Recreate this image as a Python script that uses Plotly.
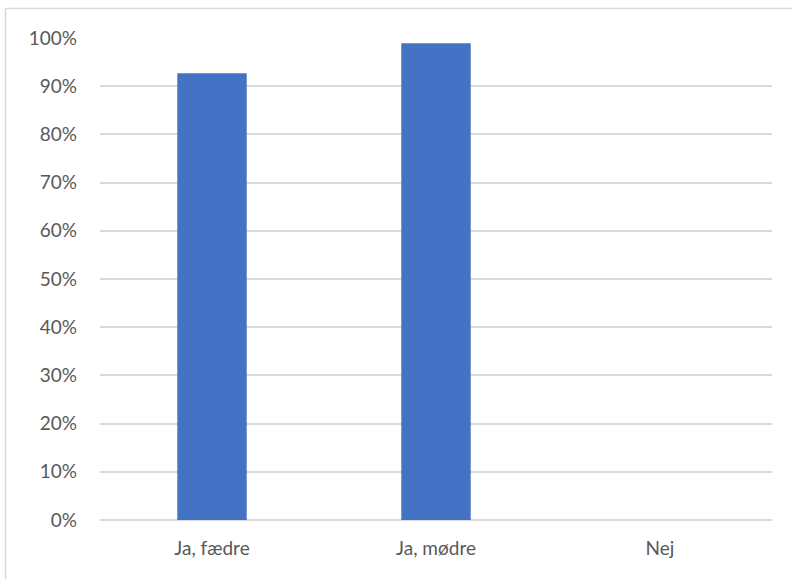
import plotly.graph_objects as go

categories = ["Ja, fædre", "Ja, mødre", "Nej"]
values = [0.927, 0.989, 0.0]
tick_vals = [0, 0.1, 0.2, 0.3, 0.4, 0.5, 0.6, 0.7, 0.8, 0.9, 1.0]
tick_text = ["0%", "10%", "20%", "30%", "40%", "50%", "60%", "70%", "80%", "90%", "100%"]

W, H = 792, 579
L, R, T, B = 100, 20, 38, 59
pw, ph = W - L - R, H - T - B

fig = go.Figure(go.Bar(x=categories, y=values, marker=dict(color="#4472C4", line=dict(width=0)),
                       width=0.31, hoverinfo="skip"))

# outer chart border (light gray), left and top edges visible
bx0 = (5.5 - L) / pw
by1 = (H - B - 8.5) / ph
fig.add_shape(type="line", xref="paper", yref="paper", x0=bx0, x1=bx0, y0=by1, y1=-0.5,
              line=dict(color="#d9d9d9", width=1.5))
fig.add_shape(type="line", xref="paper", yref="paper", x0=bx0, x1=1.5, y0=by1, y1=by1,
              line=dict(color="#d9d9d9", width=1.5))

fig.update_layout(
    width=W, height=H,
    margin=dict(l=L, r=R, t=T, b=B, pad=0),
    paper_bgcolor="white", plot_bgcolor="white",
    showlegend=False,
    bargap=0.69,
    font=dict(family="Lato, Carlito, Calibri, sans-serif", size=19, color="#595959"),
    xaxis=dict(showgrid=False, showline=False, zeroline=False, ticks="",
               ticklabelstandoff=15,
               tickfont=dict(size=19, color="#595959"), fixedrange=True),
    yaxis=dict(range=[0, 1.0], tickvals=tick_vals, ticktext=tick_text,
               showgrid=True, gridcolor="#d9d9d9", gridwidth=1.5,
               zeroline=True, zerolinecolor="#d9d9d9", zerolinewidth=1.5,
               showline=False, ticks="", ticklabelstandoff=22, fixedrange=True,
               tickfont=dict(size=19, color="#595959")),
)

fig.write_html("out.html", config={"displayModeBar": False},
               post_script="document.body.style.margin='0';document.body.style.padding='0';")
